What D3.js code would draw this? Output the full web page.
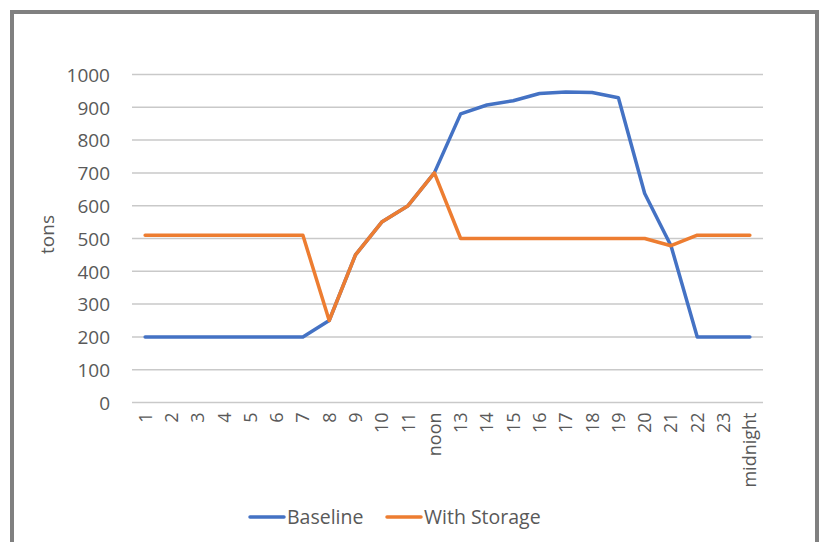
<!DOCTYPE html>
<html>
<head>
<meta charset="utf-8">
<script src="https://cdn.jsdelivr.net/npm/d3@7"></script>
<style>
  html, body { margin: 0; padding: 0; background: #fff; }
  svg { display: block; }
  text { font-family: "Open Sans", sans-serif; fill: #595959; }
</style>
</head>
<body>
<svg id="chart" width="821" height="542"></svg>
<script>
const categories = ["1","2","3","4","5","6","7","8","9","10","11","noon","13","14","15","16","17","18","19","20","21","22","23","midnight"];
const baseline = [200,200,200,200,200,200,200,250,450,550,600,700,880,907,920,942,947,945,929,637,478,200,200,200];
const withStorage = [510,510,510,510,510,510,510,250,450,550,600,700,500,500,500,500,500,500,500,500,478,510,510,510];
const yTicks = [0,100,200,300,400,500,600,700,800,900,1000];
const seriesNames = ["Baseline", "With Storage"];
const seriesColors = ["#4472C4", "#ED7D31"];
const yTitle = "tons";

const svg = d3.select("#chart");

// outer frame
svg.append("rect")
  .attr("x", 12).attr("y", 12)
  .attr("width", 805).attr("height", 560)
  .attr("fill", "none")
  .attr("stroke", "#808080")
  .attr("stroke-width", 4);

const plot = { left: 132, right: 763, top: 74.5, bottom: 402.5 };

const x = d3.scaleBand().domain(categories).range([plot.left, plot.right]);
const y = d3.scaleLinear().domain([0, 1000]).range([plot.bottom, plot.top]);

// gridlines
svg.append("g")
  .selectAll("line")
  .data(yTicks)
  .join("line")
  .attr("x1", plot.left).attr("x2", plot.right)
  .attr("y1", d => y(d)).attr("y2", d => y(d))
  .attr("stroke", "#c9c9c9")
  .attr("stroke-width", 1.5);

// y axis labels
const yAxis = d3.axisLeft(y).tickValues(yTicks).tickFormat(d3.format("d")).tickSize(0).tickPadding(0);
const gy = svg.append("g").attr("transform", `translate(110,0)`).call(yAxis);
gy.select(".domain").remove();
gy.selectAll("text")
  .attr("font-size", 19)
  .attr("font-family", "Open Sans, sans-serif")
  .attr("fill", "#595959")
  .attr("dy", "0.36em");

// x axis labels
const xAxis = d3.axisBottom(x).tickSize(0).tickPadding(0);
const gx = svg.append("g").attr("transform", `translate(0,${plot.bottom})`).call(xAxis);
gx.select(".domain").remove();
gx.selectAll("text")
  .attr("font-size", 18)
  .attr("font-family", "Open Sans, sans-serif")
  .attr("fill", "#595959")
  .attr("text-anchor", "end")
  .attr("transform", "rotate(-90)")
  .attr("x", -10)
  .attr("y", 0)
  .attr("dy", "0.36em");

// y title
svg.append("text")
  .attr("transform", `translate(54,${(plot.top + plot.bottom) / 2 - 4}) rotate(-90)`)
  .attr("text-anchor", "middle")
  .attr("font-size", 19)
  .text(yTitle);

// lines
const line = d3.line()
  .x((d, i) => x(categories[i]) + x.bandwidth() / 2)
  .y(d => y(d));

[baseline, withStorage].forEach((s, k) => {
  svg.append("path")
    .datum(s)
    .attr("d", line)
    .attr("fill", "none")
    .attr("stroke", seriesColors[k])
    .attr("stroke-width", 3.5)
    .attr("stroke-linejoin", "round")
    .attr("stroke-linecap", "round");
});

// legend
const legendItems = [
  { name: seriesNames[0], color: seriesColors[0], x0: 250 },
  { name: seriesNames[1], color: seriesColors[1], x0: 387 }
];
const lg = svg.append("g");
legendItems.forEach(it => {
  lg.append("line")
    .attr("x1", it.x0).attr("x2", it.x0 + 34)
    .attr("y1", 517).attr("y2", 517)
    .attr("stroke", it.color)
    .attr("stroke-width", 3.5)
    .attr("stroke-linecap", "round");
  lg.append("text")
    .attr("x", it.x0 + 37)
    .attr("y", 517)
    .attr("dy", "0.36em")
    .attr("font-size", 19.5)
    .text(it.name);
});
</script>
</body>
</html>
